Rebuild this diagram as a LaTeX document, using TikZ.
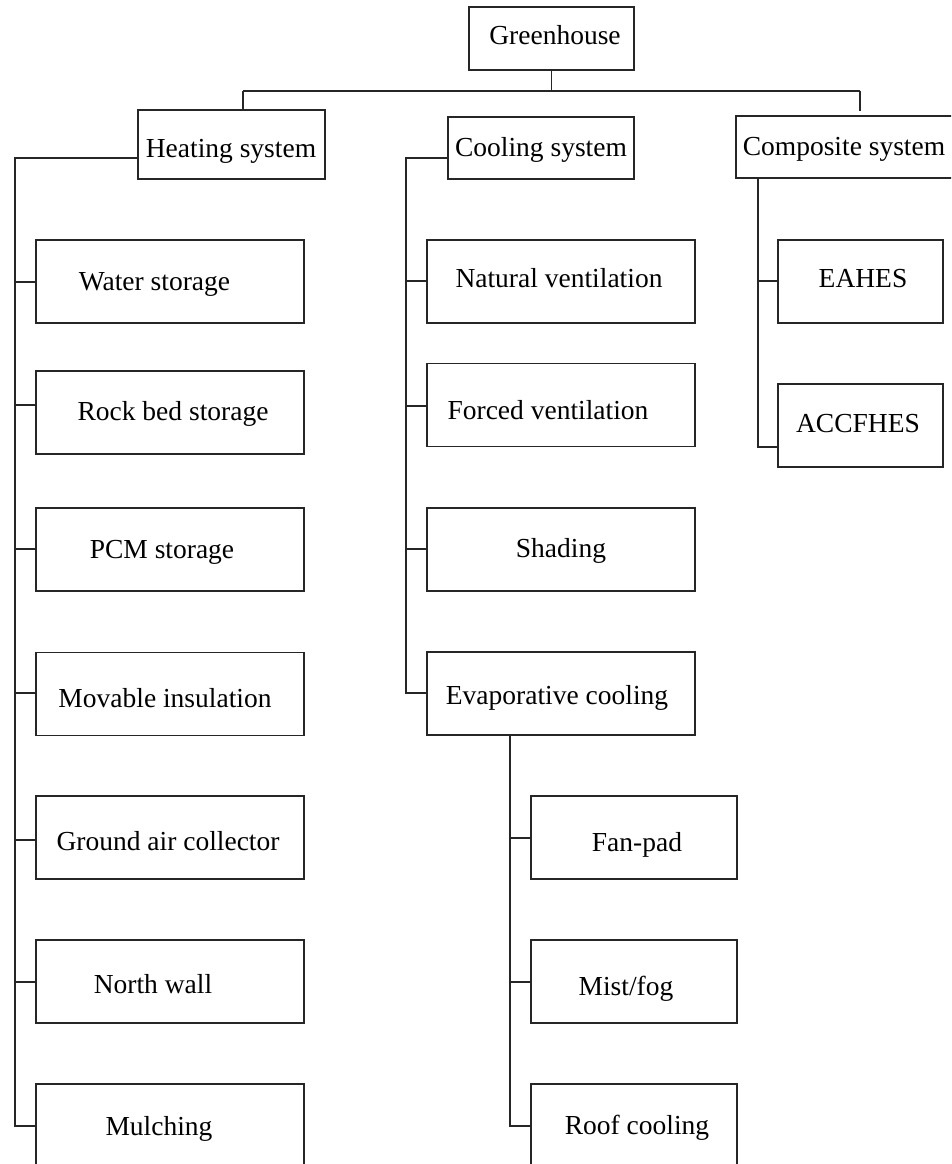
\documentclass[tikz,border=0pt]{standalone}
\usepackage{fontspec}
\setmainfont{Liberation Serif}
\begin{document}
\begin{tikzpicture}[x=1pt,y=-1pt,
  box/.style={draw=black!85,line width=1.4pt,rectangle,inner sep=0pt},
  lbox/.style={box,minimum width=268pt,minimum height=83pt},
  sbox/.style={box,minimum width=206pt,minimum height=83pt},
  cbox/.style={box,minimum width=165pt,minimum height=83pt},
  txt/.style={inner sep=0pt,font=\fontsize{27.5}{32}\selectfont,text height=19pt,text depth=7pt,yshift=-2pt},
  conn/.style={draw=black!85,line width=1.4pt}]
\useasboundingbox (0,0) rectangle (951,1164);
\clip (0,0) rectangle (951,1164);
% top level
\node[box,minimum width=165pt,minimum height=63pt] (gh) at (551.5,38.5) {};
\node[txt] (ght) at (555,37) {Greenhouse};
\node[box,minimum width=187pt,minimum height=69pt] (heat) at (231.5,144.5) {};
\node[txt] (heatt) at (231,149) {Heating system};
\node[box,minimum width=186pt,minimum height=62pt] (cool) at (541,148) {};
\node[txt] (coolt) at (541,148) {Cooling system};
\node[box,minimum width=224pt,minimum height=62pt] (comp) at (848,147) {};
\node[txt] (compt) at (844,147) {Composite system};
% heating children
\node[lbox] (ws) at (170,281.5) {};
\node[txt] (wst) at (154.5,282) {Water storage};
\node[lbox] (rb) at (170,412.5) {};
\node[txt] (rbt) at (173,412) {Rock bed storage};
\node[lbox] (pcm) at (170,549.5) {};
\node[txt] (pcmt) at (162,550) {PCM storage};
\node[lbox] (mov) at (170,694) {};
\node[txt] (movt) at (165,699) {Movable insulation};
\node[lbox] (gac) at (170,837.5) {};
\node[txt] (gact) at (168,842) {Ground air collector};
\node[lbox] (nw) at (170,981.5) {};
\node[txt] (nwt) at (153,985) {North wall};
\node[lbox] (mul) at (170,1125.5) {};
\node[txt] (mult) at (159,1127) {Mulching};
% cooling children
\node[lbox] (nv) at (561,281.5) {};
\node[txt] (nvt) at (559,279) {Natural ventilation};
\node[lbox] (fv) at (561,405) {};
\node[txt] (fvt) at (548,411) {Forced ventilation};
\node[lbox] (sh) at (561,549.5) {};
\node[txt] (sht) at (561,549) {Shading};
\node[lbox] (ev) at (561,693.5) {};
\node[txt] (evt) at (557,696) {Evaporative cooling};
\node[sbox] (fp) at (634,837.5) {};
\node[txt] (fpt) at (637,843) {Fan-pad};
\node[sbox] (mf) at (634,981.5) {};
\node[txt] (mft) at (626,987) {Mist/fog};
\node[sbox] (rc) at (634,1125.5) {};
\node[txt] (rct) at (637,1126) {Roof cooling};
% composite children
\node[cbox] (ea) at (860.5,281.5) {};
\node[txt] (eat) at (863,279) {EAHES};
\node[cbox] (ac) at (860.5,425.5) {};
\node[txt] (act) at (858,424) {ACCFHES};
% junctions
\coordinate (top) at (551.5,91);
\coordinate (tl) at (243,91);
\coordinate (tr) at (860,91);
\coordinate (cd) at (860,111);
\coordinate (hj) at (15,158);
\coordinate (cj) at (406,158);
\coordinate (ej) at (510,735);
\coordinate (kj) at (758,178);
% top connectors
\draw[conn] (gh.south) -- (top);
\draw[conn] (tl) -- (tr);
\draw[conn] (tl) -- (tl |- heat.north);
\draw[conn] (tr) -- (cd);
% heating tree
\draw[conn] (heat.west |- hj) -- (hj) -- (15,1126) -- (mul.west |- 0,1126);
\draw[conn] (15,282) -- (ws.west |- 0,282);
\draw[conn] (15,405) -- (rb.west |- 0,405);
\draw[conn] (15,549) -- (pcm.west |- 0,549);
\draw[conn] (15,693) -- (mov.west |- 0,693);
\draw[conn] (15,840) -- (gac.west |- 0,840);
\draw[conn] (15,982) -- (nw.west |- 0,982);
% cooling tree
\draw[conn] (cool.west |- cj) -- (cj) -- (406,693) -- (ev.west |- 0,693);
\draw[conn] (406,281) -- (nv.west |- 0,281);
\draw[conn] (406,406) -- (fv.west |- 0,406);
\draw[conn] (406,549) -- (sh.west |- 0,549);
% evaporative tree
\draw[conn] (ej) -- (510,1126) -- (rc.west |- 0,1126);
\draw[conn] (510,838) -- (fp.west |- 0,838);
\draw[conn] (510,982) -- (mf.west |- 0,982);
% composite tree
\draw[conn] (kj) -- (758,447) -- (ac.west |- 0,447);
\draw[conn] (758,281) -- (ea.west |- 0,281);
\end{tikzpicture}
\end{document}
